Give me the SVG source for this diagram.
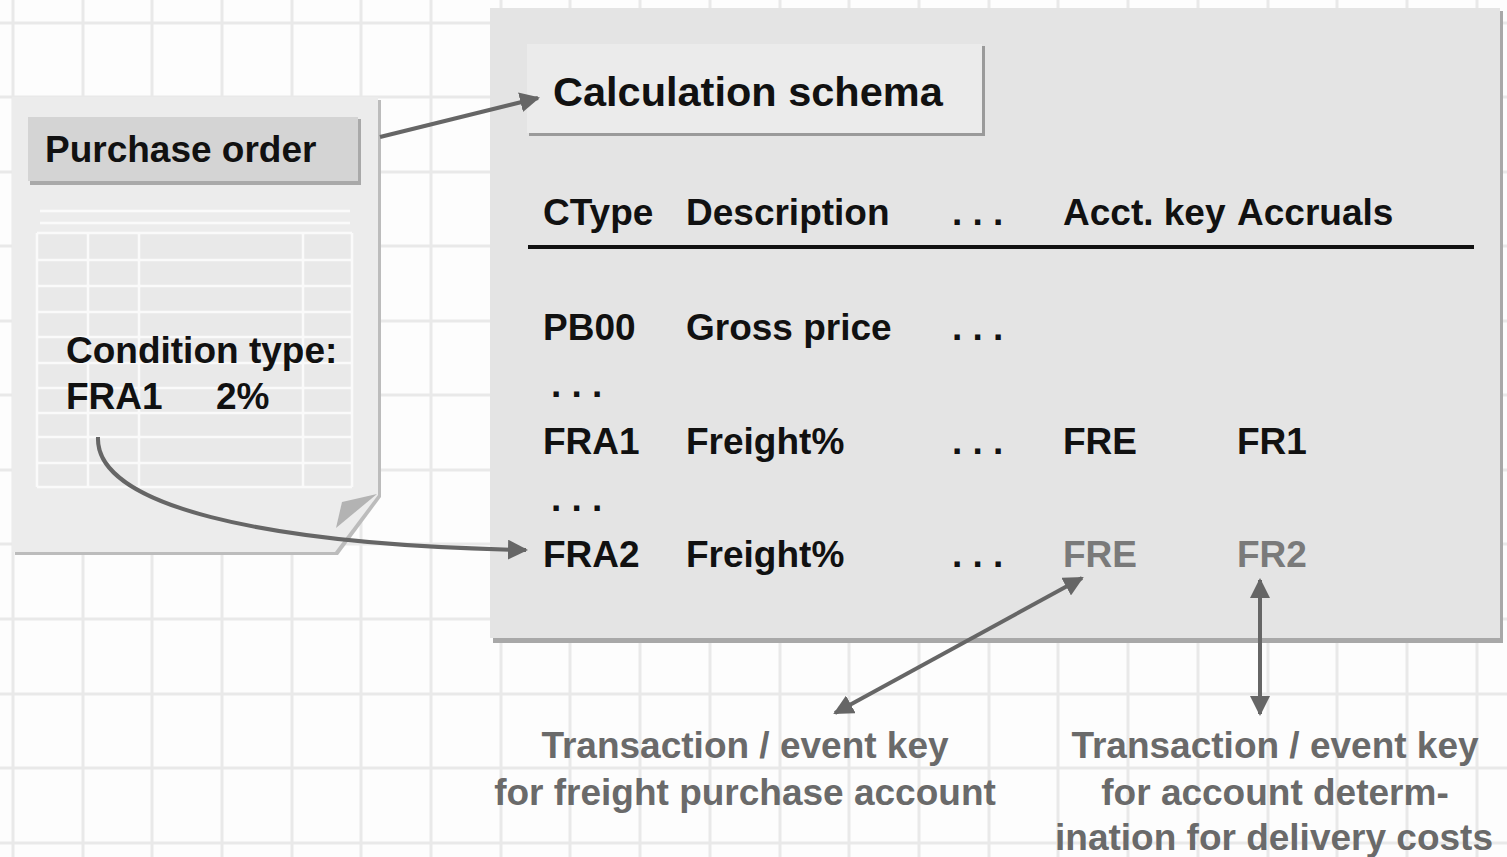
<svg xmlns="http://www.w3.org/2000/svg" width="1507" height="857" viewBox="0 0 1507 857">
<defs>
<style>
.t{font-family:"Liberation Sans",Arial,sans-serif;font-weight:bold;font-size:37px;fill:#111}
.g{fill:#6a6a6a}
.gk{fill:#7a7a7a}
.ctr{text-anchor:middle}
.con{fill:none;stroke:#666;stroke-width:4}
.grid{fill:none;stroke:#e9e9e9;stroke-width:3}
.wl{fill:none;stroke:#fafafa;stroke-width:2.5}
</style>
<marker id="ah" viewBox="0 0 10 10" refX="9" refY="5" markerWidth="5" markerHeight="5" orient="auto-start-reverse" markerUnits="strokeWidth">
<path d="M0,0 L10,5 L0,10 Z" fill="#666"/>
</marker>
</defs>
<rect width="1507" height="857" fill="#fdfdfd"/>
<g id="grid">
<path class="grid" d="M13,0V857 M83,0V857 M152,0V857 M222,0V857 M292,0V857 M361,0V857 M431,0V857 M501,0V857 M570,0V857 M640,0V857 M710,0V857 M780,0V857 M849,0V857 M919,0V857 M989,0V857 M1058,0V857 M1128,0V857 M1198,0V857 M1268,0V857 M1337,0V857 M1407,0V857 M1477,0V857"/>
<path class="grid" d="M0,23H1507 M0,97H1507 M0,172H1507 M0,246H1507 M0,321H1507 M0,395H1507 M0,470H1507 M0,544H1507 M0,619H1507 M0,694H1507 M0,768H1507 M0,843H1507"/>
</g>
<g id="purchase-order">
<polygon points="15,100 381,100 381,497 338,555 15,555" fill="#bcbcbc"/>
<polygon points="12,97 378,97 378,495 335,552 12,552" fill="#ececec"/>
<polygon points="377,494 342,502 336,528" fill="#b3b3b3"/>
<rect x="30" y="119" width="331" height="66" fill="#a9a9a9"/>
<rect x="28" y="117" width="330" height="64" fill="#d4d4d4"/>
<text class="t" x="45" y="162">Purchase order</text>
<path class="wl" d="M40,211H350 M40,223H350"/>
<rect x="37" y="233" width="315" height="254" fill="#e9e9e9"/>
<path class="wl" d="M37,233H352 M37,260H352 M37,286H352 M37,312H352 M37,337H352 M37,363H352 M37,388H352 M37,413H352 M37,437H352 M37,463H352 M37,487H352 M37,233V487 M88,233V487 M139,233V487 M303,233V487 M352,233V487"/>
<text class="t" x="66" y="363">Condition type:</text>
<text class="t" x="66" y="409">FRA1</text>
<text class="t" x="216" y="409">2%</text>
</g>
<g id="calculation-schema">
<rect x="493" y="11" width="1010" height="632" fill="#a8a8a8"/>
<rect x="490" y="8" width="1010" height="630" fill="#e4e4e4"/>
<rect x="529" y="46" width="456" height="90" fill="#9a9a9a"/>
<rect x="527" y="44" width="455" height="89" fill="#ebebeb"/>
<text class="t" x="553" y="106" style="font-size:41.5px">Calculation schema</text>
<text class="t" x="543" y="225">CType</text>
<text class="t" x="686" y="225">Description</text>
<text class="t" x="952" y="225">. . .</text>
<text class="t" x="1063" y="225">Acct. key</text>
<text class="t" x="1237" y="225">Accruals</text>
<rect x="528" y="245" width="946" height="4" fill="#111"/>
<text class="t" x="543" y="340">PB00</text>
<text class="t" x="686" y="340">Gross price</text>
<text class="t" x="952" y="340">. . .</text>
<text class="t" x="551" y="397">. . .</text>
<text class="t" x="543" y="454">FRA1</text>
<text class="t" x="686" y="454">Freight%</text>
<text class="t" x="952" y="454">. . .</text>
<text class="t" x="1063" y="454">FRE</text>
<text class="t" x="1237" y="454">FR1</text>
<text class="t" x="551" y="511">. . .</text>
<text class="t" x="543" y="567">FRA2</text>
<text class="t" x="686" y="567">Freight%</text>
<text class="t" x="952" y="567">. . .</text>
<text class="t gk" x="1063" y="567">FRE</text>
<text class="t gk" x="1237" y="567">FR2</text>
</g>
<g id="label-freight-account">
<text class="t g ctr" x="745" y="758">Transaction / event key</text>
<text class="t g ctr" x="745" y="805">for freight purchase account</text>
</g>
<g id="label-delivery-costs">
<text class="t g ctr" x="1275" y="758">Transaction / event key</text>
<text class="t g ctr" x="1275" y="805">for account determ-</text>
<text class="t g ctr" x="1274" y="850">ination for delivery costs</text>
</g>
<g id="connectors">
<path class="con" d="M380,137 L538,98" marker-end="url(#ah)"/>
<path class="con" d="M98,437 C95,505 260,545 526,550" marker-end="url(#ah)"/>
<path class="con" d="M835,713 L1082,578" marker-start="url(#ah)" marker-end="url(#ah)"/>
<path class="con" d="M1260,580 L1260,714" marker-start="url(#ah)" marker-end="url(#ah)"/>
</g>
</svg>
